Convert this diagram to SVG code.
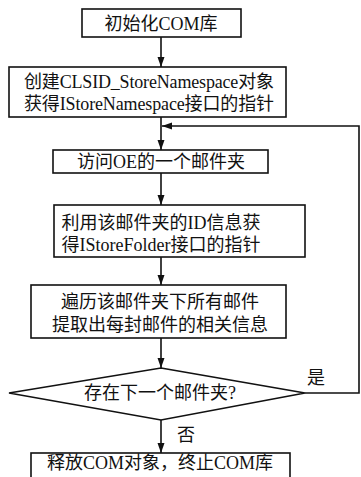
<svg xmlns="http://www.w3.org/2000/svg" width="361" height="477" viewBox="0 0 361 477">
<style>
.box{fill:#fff;stroke:#111;stroke-width:1.6}
.t{font-family:"Liberation Serif","Noto Sans CJK SC",serif;font-size:18px;fill:#111;text-anchor:middle}
.c{fill:none;stroke:#111;stroke-width:1.6}
</style>
<defs>
<marker id="ah" viewBox="0 0 10 10" refX="10" refY="5" markerWidth="10" markerHeight="10" markerUnits="userSpaceOnUse" orient="auto">
<path d="M0,1.5 L10,5 L0,8.5 Z" fill="#111"/>
</marker>
</defs>
<rect width="361" height="477" fill="#fff"/>
<g id="connectors">
<line class="c" x1="161" y1="37" x2="161" y2="67" marker-end="url(#ah)"/>
<line class="c" x1="161" y1="117" x2="161" y2="150" marker-end="url(#ah)"/>
<line class="c" x1="161" y1="173" x2="161" y2="205" marker-end="url(#ah)"/>
<line class="c" x1="161" y1="257" x2="161" y2="285" marker-end="url(#ah)"/>
<line class="c" x1="161" y1="338" x2="161" y2="368" marker-end="url(#ah)"/>
<line class="c" x1="161" y1="420" x2="161" y2="453" marker-end="url(#ah)"/>
<polyline class="c" points="305,393 359,393 359,126 162,126" marker-end="url(#ah)"/>
<text class="t" x="316" y="384">是</text>
<text class="t" x="186" y="441">否</text>
</g>
<g id="n1">
<rect class="box" x="82" y="9" width="159" height="28"/>
<text class="t" x="161" y="30">初始化COM库</text>
</g>
<g id="n2">
<rect class="box" x="9" y="67" width="277" height="50"/>
<text class="t" x="149" y="88" textLength="250">创建CLSID_StoreNamespace对象</text>
<text class="t" x="149" y="110" textLength="250">获得IStoreNamespace接口的指针</text>
</g>
<g id="n3">
<rect class="box" x="53" y="150" width="215" height="23"/>
<text class="t" x="161" y="168">访问OE的一个邮件夹</text>
</g>
<g id="n4">
<rect class="box" x="54" y="205" width="251" height="52"/>
<text class="t" x="161" y="229">利用该邮件夹的ID信息获</text>
<text class="t" x="161" y="251">得IStoreFolder接口的指针</text>
</g>
<g id="n5">
<rect class="box" x="31" y="285" width="255" height="53"/>
<text class="t" x="160" y="308">遍历该邮件夹下所有邮件</text>
<text class="t" x="160" y="331">提取出每封邮件的相关信息</text>
</g>
<g id="n6">
<polygon class="box" points="161,368 305,393 161,420 9,393"/>
<text class="t" x="160" y="399">存在下一个邮件夹?</text>
</g>
<g id="n7">
<rect class="box" x="31" y="453" width="259" height="30"/>
<text class="t" x="160" y="469">释放COM对象，终止COM库</text>
</g>
</svg>
